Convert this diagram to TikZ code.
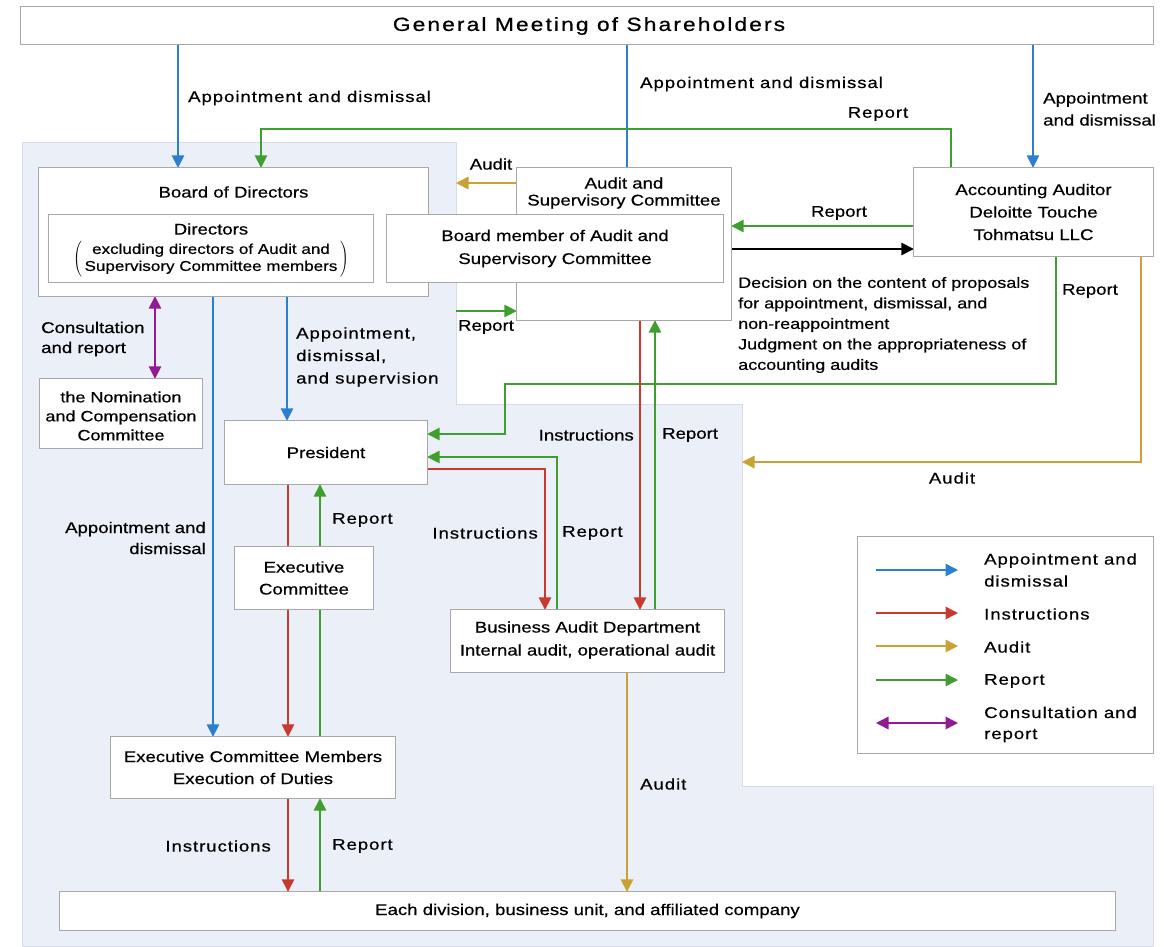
\documentclass[tikz,border=0pt]{standalone}
\usepackage{fontspec}
\setmainfont{Liberation Sans}[FakeStretch=1.2,FakeBold=0.5]
\newfontfamily\spacedfont{Liberation Sans}[FakeStretch=1.2,FakeBold=0.5,LetterSpace=6]
\newfontfamily\titlefont{Liberation Sans}[FakeStretch=1.2,FakeBold=0.6,LetterSpace=11]
\usetikzlibrary{arrows.meta,fit}

\definecolor{lnblue}{RGB}{42,128,206}
\definecolor{lnred}{RGB}{200,58,46}
\definecolor{lngold}{RGB}{200,162,50}
\definecolor{lngreen}{RGB}{63,159,46}
\definecolor{lnpurple}{RGB}{146,26,148}
\definecolor{boxline}{RGB}{168,168,168}
\definecolor{zonefill}{RGB}{235,239,247}
\definecolor{zoneline}{RGB}{214,219,230}

\begin{document}
\begin{tikzpicture}[x=1pt,y=-1pt,
  box/.style={draw=boxline,line width=1.3pt,fill=white,inner sep=0pt},
  txt/.style={inner sep=0pt,align=center,font=\fontsize{15.5}{22}\selectfont},
  lbl/.style={inner sep=0pt,align=left,font=\spacedfont\fontsize{15.5}{22}\selectfont},
  plainlbl/.style={inner sep=0pt,align=left,font=\fontsize{15.5}{21}\selectfont},
  conn/.style={line width=1.5pt},
  tip/.style={-{Triangle[width=12.5pt,length=12.5pt]}},
  dtip/.style={{Triangle[width=12.5pt,length=12.5pt]}-{Triangle[width=12.5pt,length=12.5pt]}},
  bluearr/.style={conn,lnblue},
  redarr/.style={conn,lnred},
  goldarr/.style={conn,lngold},
  greenarr/.style={conn,lngreen},
  purplearr/.style={conn,lnpurple}
]
\useasboundingbox (0,0) rectangle (1165,946);

% shaded zone behind the company organs
\filldraw[fill=zonefill,draw=zoneline,line width=1pt]
  (22,142) -- (456,142) -- (456,404) -- (742,404) -- (742,786)
  -- (1153,786) -- (1153,946) -- (22,946) -- cycle;
\coordinate (zoneA) at (456,142);
\coordinate (zoneB) at (742,404);

% ---------- boxes (shapes only, placed first so lines can refer to them)
\path
  node[fit={(21,7) (1153,44)},inner sep=0pt] (gm) {}
  node[fit={(39,168) (428,296)},inner sep=0pt] (bod) {}
  node[fit={(49,215) (373,282)},inner sep=0pt] (dir) {}
  node[fit={(517,168) (731,320)},inner sep=0pt] (asc) {}
  node[fit={(387,215) (723,282)},inner sep=0pt] (bm) {}
  node[fit={(914,168) (1153,256)},inner sep=0pt] (aa) {}
  node[fit={(40,379) (202,448)},inner sep=0pt] (ncc) {}
  node[fit={(225,421) (427,484)},inner sep=0pt] (pres) {}
  node[fit={(235,547) (373,609)},inner sep=0pt] (ec) {}
  node[fit={(451,610) (724,672)},inner sep=0pt] (bad) {}
  node[fit={(111,737) (395,798)},inner sep=0pt] (ecm) {}
  node[fit={(60,892) (1115,930)},inner sep=0pt] (div) {}
  node[fit={(858,537) (1153,753)},inner sep=0pt] (legend) {};

% ---------- connectors
\draw[bluearr,tip] (178,0 |- gm.south) -- (178,0 |- bod.north);
\draw[bluearr] (627,0 |- gm.south) -- (627,0 |- asc.north);
\draw[bluearr,tip] (1033,0 |- gm.south) -- (1033,0 |- aa.north);
\draw[greenarr,tip] (951,0 |- aa.north) -- (951,129) -| (261,0 |- bod.north);
\draw[goldarr,tip] (asc.west |- 0,183) -- (zoneA |- 0,183);
\draw[greenarr,tip] (aa.west |- 0,226) -- (asc.east |- 0,226);
\draw[conn,black,tip] (bm.east |- 0,249) -- (aa.west |- 0,249);
\draw[greenarr,tip] (zoneA |- 0,311) -- (asc.west |- 0,311);
\draw[greenarr,tip] (1056,0 |- aa.south) -- (1056,384) -| (505,434) -- (pres.east |- 0,434);
\draw[goldarr,tip] (1141,0 |- aa.south) |- (zoneB |- 0,462);
\draw[purplearr,dtip] (155,0 |- bod.south) -- (155,0 |- ncc.north);
\draw[bluearr,tip] (213,0 |- bod.south) -- (213,0 |- ecm.north);
\draw[bluearr,tip] (287,0 |- bod.south) -- (287,0 |- pres.north);
\draw[redarr,tip] (288,0 |- pres.south) -- (288,0 |- ecm.north);
\draw[greenarr,tip] (320,0 |- ecm.north) -- (320,0 |- pres.south);
\draw[redarr,tip] (pres.east |- 0,469) -| (545,0 |- bad.north);
\draw[greenarr,tip] (557,0 |- bad.north) |- (pres.east |- 0,457);
\draw[redarr,tip] (640,0 |- asc.south) -- (640,0 |- bad.north);
\draw[greenarr,tip] (655,0 |- bad.north) -- (655,0 |- asc.south);
\draw[goldarr,tip] (627,0 |- bad.south) -- (627,0 |- div.north);
\draw[redarr,tip] (288,0 |- ecm.south) -- (288,0 |- div.north);
\draw[greenarr,tip] (320,0 |- div.north) -- (320,0 |- ecm.south);

% ---------- box outlines and fills on top of the lines
\foreach \b in {gm,bod,dir,asc,bm,aa,ncc,pres,ec,bad,ecm,div,legend}
  \draw[draw=boxline,line width=1.3pt,fill=white] (\b.north west) rectangle (\b.south east);

% ---------- box texts
\node[inner sep=0pt,font=\titlefont\fontsize{19}{22}\selectfont] (gmt) at (589,26) {General Meeting of Shareholders};
\node[txt] (bodt) at (233.5,192) {Board of Directors};
\node[txt] (dirt) at (211,229) {Directors};
\node[inner sep=0pt] (dirx) at (211,259) {$\left(\;\vcenter{\hbox{\fontsize{14.2}{17}\selectfont\begin{tabular}{@{}c@{}}excluding directors of Audit and\\Supervisory Committee members\end{tabular}}}\;\right)$};
\node[txt,font=\fontsize{15.5}{17}\selectfont] (asct) at (624,193) {Audit and\\Supervisory Committee};
\node[txt,font=\fontsize{15.5}{23}\selectfont] (bmt) at (bm.center) {Board member of Audit and\\Supervisory Committee};
\node[txt,font=\fontsize{15.5}{22.5}\selectfont] (aat) at (aa.center) {Accounting Auditor\\Deloitte Touche\\Tohmatsu LLC};
\node[txt,font=\fontsize{15}{19}\selectfont] (ncct) at (121,416) {the Nomination\\and Compensation\\Committee};
\node[txt] (prest) at (pres.center) {President};
\node[txt] (ect) at (ec.center) {Executive\\Committee};
\node[txt,font=\fontsize{15.5}{23}\selectfont] (badt) at (587.5,640) {Business Audit Department\\Internal audit, operational audit};
\node[txt] (ecmt) at (ecm.center) {Executive Committee Members\\Execution of Duties};
\node[txt] (divt) at (div.center) {Each division, business unit, and affiliated company};

% ---------- connector labels
\node[lbl,anchor=west] (lapp1) at (188,98) {Appointment and dismissal};
\node[lbl,anchor=west] (lapp2) at (640,84) {Appointment and dismissal};
\node[plainlbl,anchor=west,font=\fontsize{15.5}{22}\selectfont] (lapp3) at (1043,109) {Appointment\\and dismissal};
\node[lbl] (lrep1) at (878,114) {Report};
\node[plainlbl] (laud1) at (491,164) {Audit};
\node[plainlbl] (lrep2) at (839,213) {Report};
\node[plainlbl,anchor=west,font=\fontsize{15}{20.5}\selectfont] (ldec) at (738,325) {Decision on the content of proposals\\for appointment, dismissal, and\\non-reappointment\\Judgment on the appropriateness of\\accounting audits};
\node[plainlbl] (lrep3) at (486,327) {Report};
\node[plainlbl] (lrep4) at (1090,291) {Report};
\node[lbl] (laud2) at (952,478) {Audit};
\node[plainlbl,anchor=west,font=\fontsize{15.5}{20}\selectfont] (lcons) at (41,339) {Consultation\\and report};
\node[lbl,anchor=west,font=\spacedfont\fontsize{15.5}{22.5}\selectfont] (lapp4) at (296,357) {Appointment,\\dismissal,\\and supervision};
\node[plainlbl,anchor=east,align=right] (lapp5) at (206,538) {Appointment and\\dismissal};
\node[lbl,anchor=west] (lrep5) at (332,520) {Report};
\node[lbl,anchor=east] (lins1) at (538,533) {Instructions};
\node[lbl,anchor=west] (lrep6) at (562,533) {Report};
\node[plainlbl,anchor=east] (lins2) at (634,435) {Instructions};
\node[plainlbl,anchor=west] (lrep7) at (662,435) {Report};
\node[lbl,anchor=west] (laud3) at (640,784) {Audit};
\node[lbl,anchor=east] (lins3) at (271,846) {Instructions};
\node[lbl,anchor=west] (lrep8) at (332,846) {Report};

% ---------- legend
\coordinate (k1a) at (876,570); \coordinate (k1b) at (958,570);
\coordinate (k2a) at (876,613); \coordinate (k2b) at (958,613);
\coordinate (k3a) at (876,646); \coordinate (k3b) at (958,646);
\coordinate (k4a) at (876,680); \coordinate (k4b) at (958,680);
\coordinate (k5a) at (876,723); \coordinate (k5b) at (958,723);
\draw[bluearr,tip] (k1a) -- (k1b);
\draw[redarr,tip] (k2a) -- (k2b);
\draw[goldarr,tip] (k3a) -- (k3b);
\draw[greenarr,tip] (k4a) -- (k4b);
\draw[purplearr,dtip] (k5a) -- (k5b);
\node[lbl,anchor=west] (key1) at (984,570) {Appointment and\\dismissal};
\node[lbl,anchor=west] (key2) at (984,614) {Instructions};
\node[lbl,anchor=west] (key3) at (984,647) {Audit};
\node[lbl,anchor=west] (key4) at (984,681) {Report};
\node[lbl,anchor=west,font=\spacedfont\fontsize{15.5}{21}\selectfont] (key5) at (984,724.5) {Consultation and\\report};
\end{tikzpicture}
\end{document}
